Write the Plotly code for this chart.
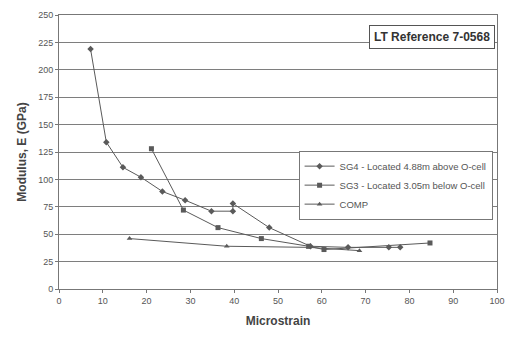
import plotly.graph_objects as go

# Modulus vs. microstrain readings for each gauge
sg4_strain = [7.2, 10.8, 14.6, 18.7, 23.6, 28.8, 34.8, 39.7, 39.7, 48.0, 57.4, 66.0, 75.3, 77.9]
sg4_modulus = [219, 134, 111, 102, 89, 81, 71, 71, 78, 56, 39, 38, 38, 38]

sg3_strain = [21.1, 28.4, 36.3, 46.2, 57.0, 60.5, 84.7]
sg3_modulus = [128, 72, 56, 46, 39, 36, 42]

comp_strain = [16.1, 38.3, 57.0, 68.6]
comp_modulus = [46, 39, 38, 35]

x_ticks = list(range(0, 101, 10))
y_ticks = list(range(0, 251, 25))

line_color = "#5a5a5a"
grid_color = "#7e7e7e"
text_color = "#555555"

fig = go.Figure()
fig.add_trace(go.Scatter(
    x=sg4_strain, y=sg4_modulus, mode="lines+markers",
    name="SG4 - Located 4.88m above O-cell",
    line=dict(color=line_color, width=1),
    marker=dict(symbol="diamond", size=5, color=line_color),
))
fig.add_trace(go.Scatter(
    x=sg3_strain, y=sg3_modulus, mode="lines+markers",
    name="SG3 - Located 3.05m below O-cell",
    line=dict(color=line_color, width=1),
    marker=dict(symbol="square", size=5, color=line_color),
))
fig.add_trace(go.Scatter(
    x=comp_strain, y=comp_modulus, mode="lines+markers",
    name="COMP",
    line=dict(color=line_color, width=1),
    marker=dict(symbol="triangle-up", size=5, color=line_color),
))

fig.add_annotation(
    x=0.996, y=0.92, xref="paper", yref="paper",
    xanchor="right", yanchor="middle",
    text="<b>LT Reference 7-0568</b>",
    showarrow=False,
    font=dict(family="Liberation Sans, Arial", size=12, color="#333333"),
    bordercolor="#555555", borderwidth=1, borderpad=4,
    bgcolor="white",
)

fig.update_layout(
    width=515, height=338,
    margin=dict(l=59, r=10, t=15, b=49),
    paper_bgcolor="white",
    plot_bgcolor="white",
    font=dict(family="Liberation Sans, Arial", size=9, color=text_color),
    showlegend=True,
    legend=dict(
        x=0.547, y=0.505, xanchor="left", yanchor="top",
        bgcolor="white", bordercolor="#777777", borderwidth=1,
        font=dict(size=9.5, color=text_color),
        itemwidth=30, tracegroupgap=0,
    ),
    xaxis=dict(
        range=[0, 100], tickvals=x_ticks,
        showgrid=False, zeroline=False,
        showline=True, linecolor="#777777", linewidth=1, mirror=True,
        ticks="outside", ticklen=3, tickcolor="#777777",
        title=dict(text="<b>Microstrain</b>", font=dict(size=12, color="#444444"), standoff=11),
    ),
    yaxis=dict(
        range=[0, 250], tickvals=y_ticks,
        showgrid=True, gridcolor=grid_color, gridwidth=1,
        zeroline=False,
        showline=True, linecolor="#777777", linewidth=1, mirror=True,
        ticks="outside", ticklen=3, tickcolor="#777777",
        title=dict(text="<b>Modulus, E (GPa)</b>", font=dict(size=12, color="#444444"), standoff=8),
    ),
)

fig.write_html("out.html")
